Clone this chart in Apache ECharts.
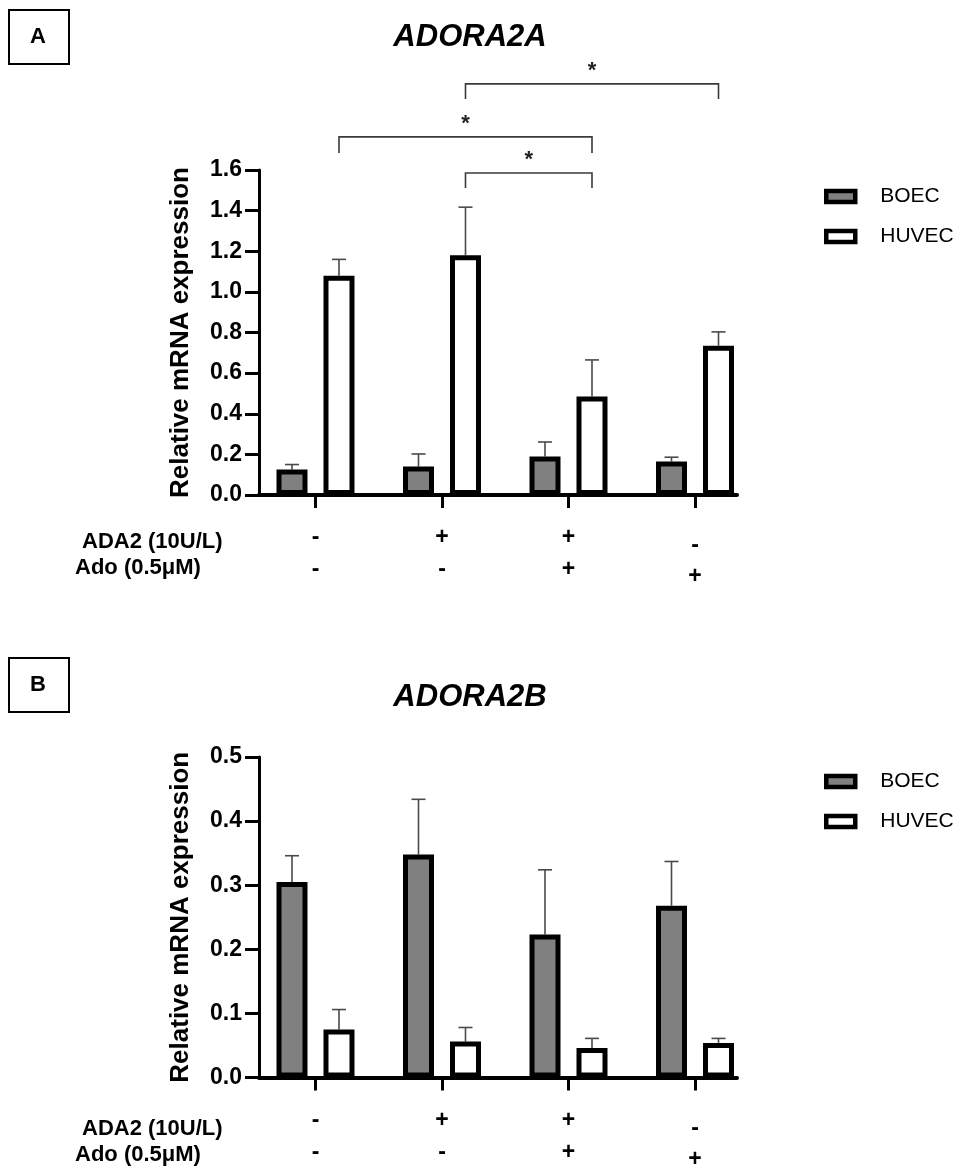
<!DOCTYPE html>
<html>
<head>
<meta charset="utf-8">
<script src="https://cdn.jsdelivr.net/npm/echarts@6/dist/echarts.min.js"></script>
<style>
  html, body { margin: 0; padding: 0; background: #ffffff; }
  #chart { width: 968px; height: 1171px; }
</style>
</head>
<body>
<div id="chart"></div>
<script>
// ---- data ----
const GROUPS = [0, 1, 2, 3];                 // treatment conditions
const ADA2_ROW = ['-', '+', '+', '-'];       // ADA2 (10U/L) present?
const ADO_ROW = ['-', '-', '+', '+'];        // Ado (0.5μM) present?
const ROW_NAMES = ['ADA2 (10U/L)', 'Ado (0.5μM)'];
const SERIES_NAMES = ['BOEC', 'HUVEC'];
const PANEL_LETTERS = ['A', 'B'];
const PANEL_TITLES = ['ADORA2A', 'ADORA2B'];
const Y_NAME = 'Relative mRNA expression';

// ADORA2A: mean and upper SD
const A_BOEC = [0.125, 0.14, 0.19, 0.165];
const A_BOEC_SD = [0.025, 0.062, 0.071, 0.021];
const A_HUVEC = [1.08, 1.18, 0.485, 0.735];
const A_HUVEC_SD = [0.08, 0.237, 0.18, 0.068];

// ADORA2B: mean and upper SD
const B_BOEC = [0.305, 0.348, 0.223, 0.268];
const B_BOEC_SD = [0.041, 0.086, 0.101, 0.069];
const B_HUVEC = [0.075, 0.056, 0.046, 0.054];
const B_HUVEC_SD = [0.031, 0.022, 0.015, 0.007];

// y axis ranges
const A_Y = { min: 0, max: 1.6, interval: 0.2 };
const B_Y = { min: 0, max: 0.5, interval: 0.1 };

// significant HUVEC comparisons in ADORA2A (group pairs)
const A_SIG_PAIRS = [[1, 3], [0, 2], [1, 2]];
const SIG_MARK = '*';

// ---- styling / layout ----
const FONT = '"Liberation Sans", Arial, sans-serif';
const BAR_W = 31;
const BAR_GAP = 0.516;
const SHIFT = BAR_W * (1 + BAR_GAP) / 2;   // half distance between the two bar centres
const GRID_LEFT = 259, GRID_W = 478;
const PANELS = [
  { top: 170, height: 325, y: A_Y, boec: A_BOEC, boecSd: A_BOEC_SD, huvec: A_HUVEC, huvecSd: A_HUVEC_SD,
    boxTop: 9, titleY: 37, legendTop: 181 },
  { top: 757, height: 325, y: B_Y, boec: B_BOEC, boecSd: B_BOEC_SD, huvec: B_HUVEC, huvecSd: B_HUVEC_SD,
    boxTop: 657, titleY: 697, legendTop: 766 }
];
// bracket levels for the ADORA2A comparisons: [crossbar, leg end]
const BRACKET_LEVELS = [[2.024, 1.95], [1.763, 1.684], [1.585, 1.512]];

const chart = echarts.init(document.getElementById('chart'), null, { renderer: 'canvas' });

const grids = [], xAxes = [], yAxes = [], series = [], legends = [], graphics = [];

function errorBarSeries(idx, means, sds, shift) {
  return {
    type: 'custom',
    xAxisIndex: idx, yAxisIndex: idx,
    z: 1,
    silent: true,
    data: GROUPS.map(g => [g, means[g], sds[g]]),
    encode: { x: 0, y: 1 },
    renderItem: (params, api) => {
      const g = api.value(0), m = api.value(1), s = api.value(2);
      const base = api.coord([g, m]);
      const top = api.coord([g, m + s]);
      const cx = base[0] + shift;
      const st = { stroke: '#4a4a4a', lineWidth: 1.6 };
      return {
        type: 'group',
        children: [
          { type: 'line', shape: { x1: cx, y1: base[1], x2: cx, y2: top[1] }, style: st },
          { type: 'line', shape: { x1: cx - 7, y1: top[1], x2: cx + 7, y2: top[1] }, style: st }
        ]
      };
    }
  };
}

PANELS.forEach((p, i) => {
  grids.push({ left: GRID_LEFT, top: p.top, width: GRID_W, height: p.height, containLabel: false });

  xAxes.push({
    type: 'value', gridIndex: i,
    min: -0.4466, max: 3.332,
    axisLine: { show: true, onZero: false, lineStyle: { color: '#000', width: 4 } },
    axisTick: { show: true, customValues: GROUPS, length: 13, lineStyle: { color: '#000', width: 3 } },
    splitLine: { show: false },
    axisLabel: {
      customValues: GROUPS,
      margin: 27,
      formatter: (v) => {
        const g = Math.round(v);
        if (g < 3) return '{p|' + ADA2_ROW[g] + '}\n{p|' + ADO_ROW[g] + '}';
        return '{q|' + ADA2_ROW[g] + '}\n{r|' + ADO_ROW[g] + '}';
      },
      rich: {
        p: { fontFamily: FONT, fontWeight: 'bold', fontSize: 23, color: '#000', lineHeight: 32 },
        q: { fontFamily: FONT, fontWeight: 'bold', fontSize: 23, color: '#000', lineHeight: 48 },
        r: { fontFamily: FONT, fontWeight: 'bold', fontSize: 23, color: '#000', lineHeight: 14 }
      }
    }
  });

  yAxes.push({
    type: 'value', gridIndex: i,
    min: p.y.min, max: p.y.max, interval: p.y.interval,
    name: Y_NAME, nameLocation: 'middle', nameGap: 65,
    nameTextStyle: { fontFamily: FONT, fontWeight: 'bold', fontSize: 26, color: '#000' },
    axisLine: { show: true, onZero: false, lineStyle: { color: '#000', width: 3 } },
    axisTick: { show: true, length: 14, lineStyle: { color: '#000', width: 3 } },
    splitLine: { show: false },
    axisLabel: {
      margin: 17, color: '#000', fontFamily: FONT, fontWeight: 'bold', fontSize: 23,
      formatter: (v) => v.toFixed(1)
    }
  });

  series.push(errorBarSeries(i, p.boec, p.boecSd, -SHIFT));
  series.push(errorBarSeries(i, p.huvec, p.huvecSd, SHIFT));

  series.push({
    type: 'bar', name: SERIES_NAMES[0], xAxisIndex: i, yAxisIndex: i, z: 3,
    data: GROUPS.map(g => [g, p.boec[g]]),
    barWidth: BAR_W, barGap: (BAR_GAP * 100) + '%',
    itemStyle: { color: '#808080', borderColor: '#000', borderWidth: 5 },
    emphasis: { disabled: true }
  });
  series.push({
    type: 'bar', name: SERIES_NAMES[1], xAxisIndex: i, yAxisIndex: i, z: 3,
    data: GROUPS.map(g => [g, p.huvec[g]]),
    barWidth: BAR_W, barGap: (BAR_GAP * 100) + '%',
    itemStyle: { color: '#ffffff', borderColor: '#000', borderWidth: 5 },
    emphasis: { disabled: true }
  });

  legends.push({
    data: SERIES_NAMES, orient: 'vertical', left: 819, top: p.legendTop,
    icon: 'rect', itemWidth: 29, itemHeight: 11, itemGap: 19,
    itemStyle: { borderColor: '#000', borderWidth: 4.5 },
    textStyle: { fontFamily: FONT, fontSize: 21, color: '#000', padding: [0, 0, 0, 20] },
    selectedMode: false
  });

  // panel letter box
  graphics.push({
    type: 'rect', left: 8, top: p.boxTop, shape: { width: 60, height: 54 },
    style: { fill: '#fff', stroke: '#000', lineWidth: 2 }
  });
  graphics.push({
    type: 'text', x: 38, y: p.boxTop + 28,
    style: { text: PANEL_LETTERS[i], fontFamily: FONT, fontWeight: 'bold', fontSize: 22,
             fill: '#000', align: 'center', verticalAlign: 'middle' }
  });
  // panel title
  graphics.push({
    type: 'text', x: 470, y: p.titleY,
    style: { text: PANEL_TITLES[i], fontFamily: FONT, fontWeight: 'bold', fontStyle: 'italic', fontSize: 31,
             fill: '#000', align: 'center', verticalAlign: 'middle' }
  });
  // treatment row names
  const axisY = p.top + p.height;
  graphics.push({
    type: 'text', x: 82, y: axisY + 47,
    style: { text: ROW_NAMES[0], fontFamily: FONT, fontWeight: 'bold', fontSize: 22,
             fill: '#000', align: 'left', verticalAlign: 'middle' }
  });
  graphics.push({
    type: 'text', x: 75, y: axisY + 73,
    style: { text: ROW_NAMES[1], fontFamily: FONT, fontWeight: 'bold', fontSize: 22,
             fill: '#000', align: 'left', verticalAlign: 'middle' }
  });
});

// significance brackets between HUVEC bars (ADORA2A)
series.push({
  type: 'custom',
  xAxisIndex: 0, yAxisIndex: 0,
  clip: false, silent: true, z: 5,
  data: A_SIG_PAIRS.map((pr, k) => [pr[0], pr[1], k]),
  encode: { x: [0, 1] },
  renderItem: (params, api) => {
    const g1 = api.value(0), g2 = api.value(1), k = api.value(2);
    const lv = BRACKET_LEVELS[k];
    const a = api.coord([g1, lv[0]]), b = api.coord([g2, lv[0]]);
    const legY = api.coord([g1, lv[1]])[1];
    const x1 = a[0] + SHIFT, x2 = b[0] + SHIFT;
    return {
      type: 'group',
      children: [
        { type: 'polyline', shape: { points: [[x1, legY], [x1, a[1]], [x2, a[1]], [x2, legY]] },
          style: { stroke: '#3a3a3a', lineWidth: 1.6, fill: null } },
        { type: 'text', x: (x1 + x2) / 2, y: a[1] - 13,
          style: { text: SIG_MARK, fontFamily: FONT, fontWeight: 'bold', fontSize: 22, fill: '#222',
                   align: 'center', verticalAlign: 'middle' } }
      ]
    };
  }
});

chart.setOption({
  animation: false,
  backgroundColor: '#ffffff',
  grid: grids,
  xAxis: xAxes,
  yAxis: yAxes,
  legend: legends,
  series: series,
  graphic: { elements: graphics }
});
</script>
</body>
</html>
